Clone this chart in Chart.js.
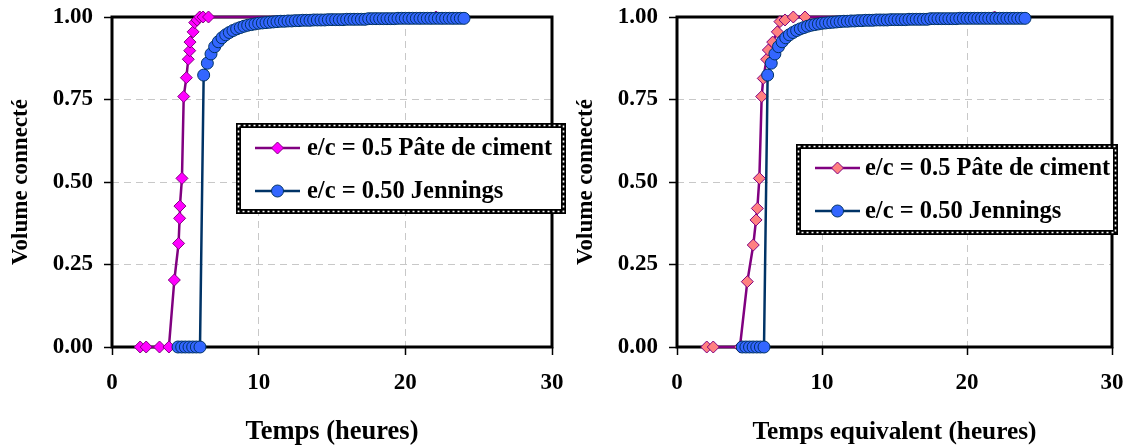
<!DOCTYPE html>
<html><head><meta charset="utf-8">
<script src="https://cdn.jsdelivr.net/npm/chart.js@4"></script>
<style>
html,body{margin:0;padding:0;background:#fff;width:1131px;height:445px;overflow:hidden}
#left{position:absolute;left:0;top:0;width:570px;height:445px}
#right{position:absolute;left:565px;top:0;width:566px;height:445px}
</style></head><body>
<div id="left"><canvas id="c1" width="570" height="445"></canvas></div>
<div id="right"><canvas id="c2" width="566" height="445"></canvas></div>
<script>
// ---- data ----
const xTicks = [0, 10, 20, 30];
const yTicks = [0, 0.25, 0.5, 0.75, 1];
const seriesNames = ['e/c = 0.5 Pâte de ciment', 'e/c = 0.50 Jennings'];
const xTitles = ['Temps (heures)', 'Temps equivalent (heures)'];
const yTitle = 'Volume connecté';

const pateX1 = [1.92, 2.33, 3.24, 3.88, 4.25, 4.54, 4.61, 4.63, 4.77, 4.89, 5.07, 5.2, 5.3, 5.32, 5.53, 5.64, 5.8, 5.98, 6.21, 6.58, 22.1];
const pateY1 = [0, 0, 0, 0, 0.203, 0.314, 0.39, 0.427, 0.511, 0.759, 0.816, 0.872, 0.898, 0.924, 0.955, 0.983, 0.991, 1, 1, 1, 1];

const pateX2 = [2.05, 2.5, 4.34, 4.85, 5.26, 5.45, 5.54, 5.68, 5.84, 5.95, 6.18, 6.3, 6.6, 6.92, 7.1, 7.45, 8.02, 8.83, 21.9];
const pateY2 = [0, 0, 0, 0.198, 0.309, 0.385, 0.42, 0.511, 0.759, 0.814, 0.872, 0.9, 0.924, 0.955, 0.986, 0.991, 1, 1, 1];

const jenX = [4.5, 4.75, 5, 5.25, 5.5, 5.75, 6, 6.25, 6.5, 6.75, 7, 7.25, 7.5, 7.75, 8, 8.25, 8.5, 8.75, 9, 9.25, 9.5, 9.75,
  10, 10.25, 10.5, 10.75, 11, 11.25, 11.5, 11.75, 12, 12.25, 12.5, 12.75,
  13, 13.25, 13.5, 13.75, 14, 14.25, 14.5, 14.75, 15, 15.25, 15.5, 15.75, 16, 16.25, 16.5, 16.75, 17, 17.25,
  17.5, 17.75, 18, 18.25, 18.5, 18.75, 19, 19.25, 19.5, 19.75, 20, 20.25, 20.5, 20.75, 21, 21.25, 21.5, 21.75, 22, 22.25, 22.5, 22.75, 23, 23.25, 23.5, 23.75, 24];
const jenY = [0, 0, 0, 0, 0, 0, 0,
  0.824, 0.86, 0.888, 0.91, 0.925, 0.937, 0.946, 0.953, 0.959, 0.964, 0.968, 0.972, 0.975, 0.977, 0.979,
  0.981, 0.982, 0.983, 0.984, 0.985, 0.986, 0.987, 0.987, 0.988, 0.988, 0.989, 0.989,
  0.99, 0.99, 0.99, 0.991, 0.991, 0.991, 0.991, 0.992, 0.992, 0.992, 0.992, 0.992, 0.993, 0.993, 0.993, 0.993, 0.993, 0.993,
  0.995, 0.995, 0.995, 0.995, 0.995, 0.995, 0.995, 0.995, 0.996, 0.996, 0.996, 0.996, 0.996, 0.996, 0.996, 0.996, 0.996, 0.996, 0.996, 0.996, 0.996, 0.996, 0.996, 0.996, 0.996, 0.996, 0.996];

// ---- styles ----
const FONT = '"Liberation Serif", "Times New Roman", serif';
const pateLine = '#800080';
const jenLine = '#003366';
const jenFill = '#3366FF';

function pts(xs, ys) { return xs.map((x, i) => ({x: x, y: ys[i]})); }

function drawLegend(ctx, L) {
  const {x, y, w, h} = L;
  ctx.save();
  ctx.fillStyle = '#fff';
  ctx.fillRect(x, y, w, h);
  ctx.strokeStyle = '#000';
  ctx.lineWidth = 5;
  ctx.strokeRect(x + 2.5, y + 2.5, w - 5, h - 5);
  ctx.strokeStyle = '#fff';
  ctx.lineWidth = 1.6;
  ctx.setLineDash([2, 3]);
  ctx.strokeRect(x + 2.5, y + 2.5, w - 5, h - 5);
  ctx.setLineDash([]);
  const rows = [
    {name: seriesNames[0], line: pateLine, fill: L.pateFill, border: pateLine, style: 'diamond'},
    {name: seriesNames[1], line: jenLine, fill: jenFill, border: jenLine, style: 'circle'}
  ];
  rows.forEach((r, i) => {
    const cy = y + L.rowY[i];
    ctx.strokeStyle = r.line;
    ctx.lineWidth = 2.5;
    ctx.beginPath();
    ctx.moveTo(x + 19, cy);
    ctx.lineTo(x + 64, cy);
    ctx.stroke();
    const mx = x + 41.5;
    ctx.fillStyle = r.fill;
    ctx.strokeStyle = r.border;
    ctx.lineWidth = 1;
    ctx.beginPath();
    if (r.style === 'diamond') {
      ctx.moveTo(mx, cy - 6); ctx.lineTo(mx + 6, cy); ctx.lineTo(mx, cy + 6); ctx.lineTo(mx - 6, cy); ctx.closePath();
    } else {
      ctx.arc(mx, cy, 6, 0, Math.PI * 2);
    }
    ctx.fill();
    ctx.stroke();
    ctx.fillStyle = '#000';
    ctx.font = 'bold 24.5px ' + FONT;
    ctx.textBaseline = 'middle';
    ctx.textAlign = 'left';
    ctx.fillText(r.name, x + L.textX, cy + 1);
  });
  ctx.restore();
}

const boxPlugin = {
  id: 'boxLegend',
  beforeDatasetsDraw(chart) {
    const {ctx, chartArea: a} = chart;
    ctx.save();
    ctx.lineWidth = 3;
    ctx.strokeStyle = '#000';
    ctx.strokeRect(a.left, a.top, a.right - a.left, a.bottom - a.top);
    ctx.restore();
  },
  afterDraw(chart, args, opts) {
    drawLegend(chart.ctx, opts);
  }
};

function makeChart(id, pateXs, pateYs, pateFill, xTitle, xTitleSize, padRight, legend) {
  return new Chart(document.getElementById(id), {
    type: 'line',
    data: {
      datasets: [
        {
          label: seriesNames[0],
          data: pts(pateXs, pateYs),
          borderColor: pateLine,
          borderWidth: 2.5,
          pointStyle: 'rectRot',
          pointRadius: 6,
          pointBackgroundColor: pateFill,
          pointBorderColor: pateLine,
          pointBorderWidth: 1,
          fill: false,
          tension: 0,
          clip: false,
          order: 1
        },
        {
          label: seriesNames[1],
          data: pts(jenX, jenY),
          borderColor: jenLine,
          borderWidth: 2.5,
          pointStyle: 'circle',
          pointRadius: 6,
          pointBackgroundColor: jenFill,
          pointBorderColor: jenLine,
          pointBorderWidth: 1,
          fill: false,
          tension: 0,
          clip: false,
          order: 0
        }
      ]
    },
    options: {
      responsive: false,
      animation: false,
      events: [],
      layout: {padding: {top: 17, right: padRight, bottom: 0, left: 0}},
      plugins: {
        legend: {display: false},
        tooltip: {enabled: false},
        boxLegend: legend
      },
      scales: {
        x: {
          type: 'linear',
          min: 0, max: 30,
          afterBuildTicks: s => { s.ticks = xTicks.map(v => ({value: v})); },
          afterFit: s => { s.height = 98; s.paddingLeft = 0; s.paddingRight = 0; },
          grid: {color: '#c8c8c8', lineWidth: 1, tickLength: 8, tickColor: '#000', tickWidth: 1.5},
          border: {display: false, dash: [7, 5]},
          ticks: {color: '#000', font: {family: FONT, size: 23, weight: 'bold'}, padding: 14, maxRotation: 0},
          title: {display: true, text: xTitle, color: '#000', font: {family: FONT, size: xTitleSize, weight: 'bold', lineHeight: 1}, padding: {top: 4, bottom: 0}}
        },
        y: {
          type: 'linear',
          min: 0, max: 1,
          afterBuildTicks: s => { s.ticks = yTicks.map(v => ({value: v})); },
          afterFit: s => { s.width = 112; s.paddingTop = 0; s.paddingBottom = 0; },
          grid: {color: '#c8c8c8', lineWidth: 1, tickLength: 8, tickColor: '#000', tickWidth: 1.5},
          border: {display: false, dash: [7, 5]},
          ticks: {color: '#000', font: {family: FONT, size: 23, weight: 'bold'}, padding: 11, callback: v => Number(v).toFixed(2)},
          title: {display: true, text: yTitle, color: '#000', font: {family: FONT, size: 23, weight: 'bold', lineHeight: 1}, padding: {top: 10, bottom: 0}}
        }
      }
    },
    plugins: [boxPlugin]
  });
}

makeChart('c1', pateX1, pateY1, '#FF00FF', xTitles[0], 26.5, 18,
  {x: 236, y: 123, w: 330, h: 91, rowY: [25, 68], textX: 71, pateFill: '#FF00FF'});
makeChart('c2', pateX2, pateY2, '#FF8080', xTitles[1], 25.3, 19,
  {x: 231, y: 144, w: 322, h: 91, rowY: [24, 67], textX: 69, pateFill: '#FF8080'});
</script>
</body></html>
